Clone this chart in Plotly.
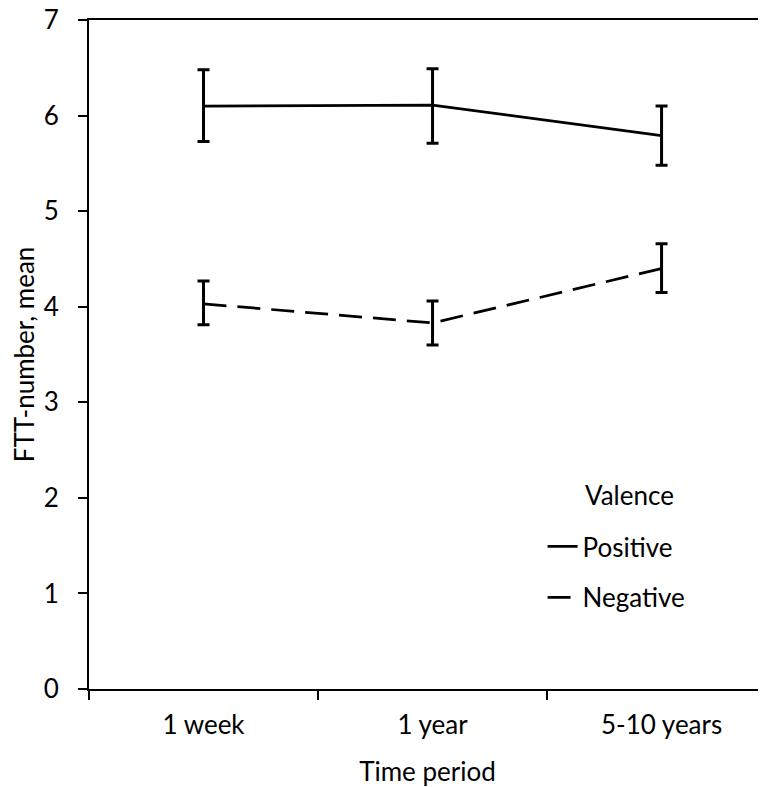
import plotly.graph_objects as go

periods = ["1 week", "1 year", "5-10 years"]

pos_mean = [6.10, 6.11, 5.79]
pos_upper = [6.48, 6.49, 6.10]
pos_lower = [5.73, 5.71, 5.48]

neg_mean = [4.03, 3.83, 4.40]
neg_upper = [4.27, 4.06, 4.66]
neg_lower = [3.81, 3.60, 4.15]

y_ticks = [0, 1, 2, 3, 4, 5, 6, 7]

FONT = "Lato"
FS = 26

# the page body has an 8px margin; compensate so the plot sits where the reference has it
BODY = 8


def err(mean, up, lo):
    return dict(
        type="data",
        symmetric=False,
        array=[u - m for u, m in zip(up, mean)],
        arrayminus=[m - l for m, l in zip(mean, lo)],
        color="black",
        thickness=3,
        width=6,
    )


fig = go.Figure()
fig.add_trace(go.Scatter(
    x=periods, y=pos_mean, name="Positive", mode="lines",
    line=dict(color="black", width=2.75),
    error_y=err(pos_mean, pos_upper, pos_lower),
    legendgroup="pos",
))
fig.add_trace(go.Scatter(
    x=periods, y=neg_mean, name="Negative", mode="lines",
    line=dict(color="black", width=2.75, dash="23px,11px"),
    error_y=err(neg_mean, neg_upper, neg_lower),
    legendgroup="neg",
))

fig.add_annotation(
    text="Valence", xref="paper", yref="paper",
    x=0.7297, y=0.2896, xanchor="left", yanchor="middle",
    showarrow=False, font=dict(size=FS),
)

fig.update_layout(
    width=766 - BODY, height=787 - BODY,
    margin=dict(l=89 - BODY, r=0, t=12, b=98, autoexpand=False),
    paper_bgcolor="white", plot_bgcolor="white",
    font=dict(family=FONT, size=FS, color="black"),
    showlegend=True,
    legend=dict(
        x=0.67, y=0.248, xanchor="left", yanchor="top",
        bgcolor="rgba(0,0,0,0)",
        traceorder="grouped",
        tracegroupgap=14,
        font=dict(size=FS),
    ),
    xaxis=dict(
        type="category",
        range=[-0.5, 2.456],
        tickson="boundaries",
        ticks="outside", ticklen=9, tickwidth=1.5, tickcolor="black",
        showline=True, linecolor="black", linewidth=2,
        mirror=True,
        showgrid=False, zeroline=False,
        automargin=False,
        ticklabelstandoff=12,
        title=dict(text="Time period", font=dict(size=FS), standoff=25),
    ),
    yaxis=dict(
        range=[0, 7],
        tickvals=y_ticks,
        ticks="outside", ticklen=9, tickwidth=2, tickcolor="black",
        showline=True, linecolor="black", linewidth=2,
        showgrid=False, zeroline=False,
        automargin=False,
        ticklabelstandoff=14,
        ticklabeloverflow="allow",
        title=dict(text="FTT-number, mean", font=dict(size=FS), standoff=9),
    ),
)

fig.write_html("out.html")
